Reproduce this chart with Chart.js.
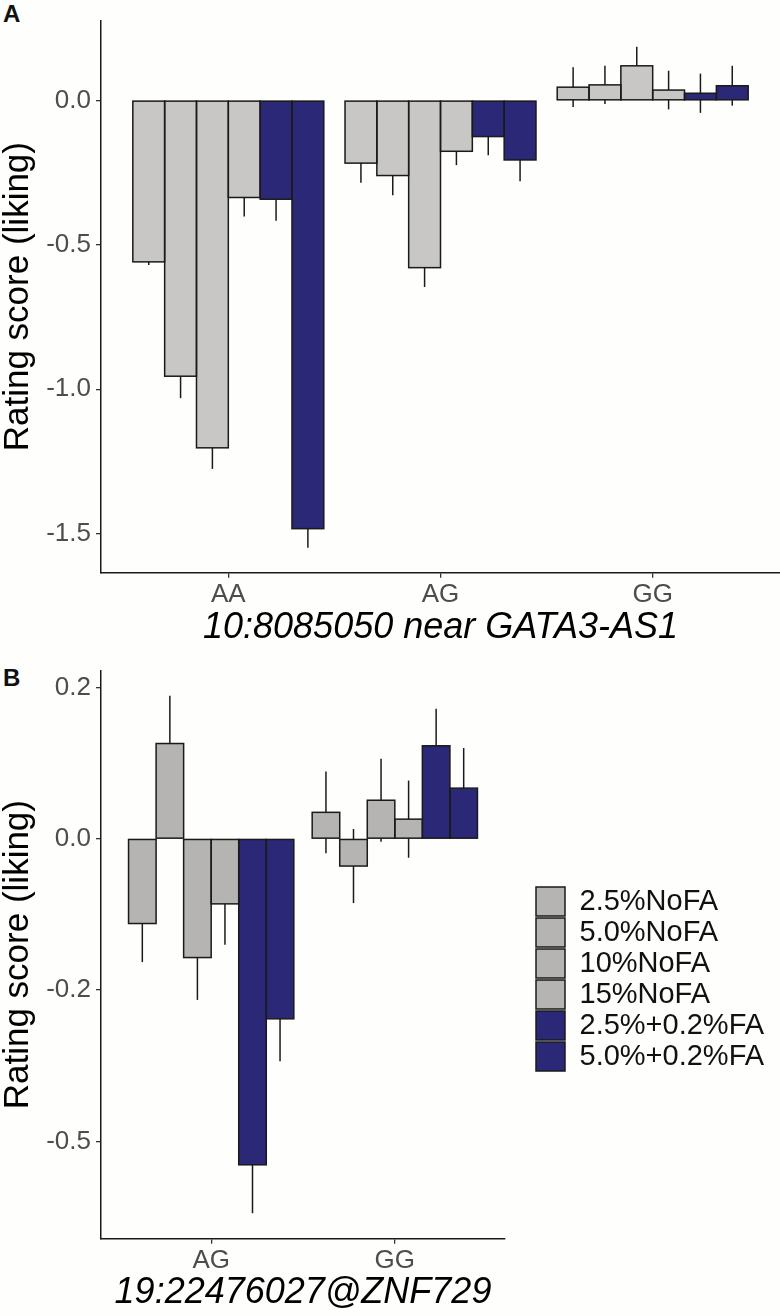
<!DOCTYPE html>
<html>
<head>
<meta charset="utf-8">
<script src="https://cdn.jsdelivr.net/npm/chart.js@4.4.1/dist/chart.umd.min.js"></script>
<style>
  body { margin: 0; background: #fefefc; }
  #wrap { position: relative; width: 780px; height: 1316px; }
  canvas { position: absolute; left: 0; }
  .tag { position: absolute; left: 3px; font: bold 24px "Liberation Sans", Arial, sans-serif; color: #111; }
</style>
</head>
<body>
<div id="wrap">
  <div class="tag" style="top:0px">A</div>
  <canvas id="chartA" width="780" height="650" style="top:0"></canvas>
  <div class="tag" style="top:664px">B</div>
  <canvas id="chartB" width="780" height="666" style="top:650px"></canvas>
</div>
<script>
// series (same order in both panels)
const seriesNames = ['2.5%NoFA', '5.0%NoFA', '10%NoFA', '15%NoFA', '2.5%+0.2%FA', '5.0%+0.2%FA'];

// panel A: 10:8085050 near GATA3-AS1
const categoriesA = ['AA', 'AG', 'GG'];
const meansA = [
  [-0.559, -0.217, 0.046],
  [-0.955, -0.260, 0.054],
  [-1.203, -0.579, 0.120],
  [-0.336, -0.176, 0.036],
  [-0.342, -0.125, 0.025],
  [-1.483, -0.206, 0.051]
];
const errorsA = [
  [0.011, 0.068, 0.069],
  [0.076, 0.068, 0.066],
  [0.073, 0.067, 0.066],
  [0.066, 0.048, 0.067],
  [0.075, 0.065, 0.068],
  [0.066, 0.074, 0.069]
];
const yTicksA = [0, -0.5, -1.0, -1.5];
const yTickLabelsA = ['0.0', '-0.5', '-1.0', '-1.5'];

// panel B: 19:22476027@ZNF729
const categoriesB = ['AG', 'GG'];
const meansB = [
  [-0.112, 0.035],
  [0.126, -0.036],
  [-0.157, 0.051],
  [-0.086, 0.026],
  [-0.431, 0.123],
  [-0.238, 0.067]
];
const errorsB = [
  [0.051, 0.054],
  [0.063, 0.049],
  [0.056, 0.055],
  [0.054, 0.051],
  [0.064, 0.049],
  [0.056, 0.053]
];
// the original axis labels its lowest tick "-0.5"
const yTicksB = [0.2, 0, -0.2, -0.4];
const yTickLabelsB = ['0.2', '0.0', '-0.2', '-0.5'];

const FONT = '"Liberation Sans", Arial, sans-serif';
const EDGE = '#1a1a1a';
const BLUE = '#2a2877';
Chart.defaults.font.family = FONT;

// whiskers drawn under the bars, so only the outer half shows
const errorBars = {
  id: 'errorBars',
  beforeDatasetsDraw(chart) {
    const ctx = chart.ctx;
    const y = chart.scales.y;
    ctx.save();
    ctx.strokeStyle = EDGE;
    ctx.lineWidth = 1.5;
    chart.data.datasets.forEach((ds, i) => {
      chart.getDatasetMeta(i).data.forEach((bar, j) => {
        const v = ds.data[j].y, e = ds.se[j];
        ctx.beginPath();
        ctx.moveTo(bar.x, y.getPixelForValue(v - e));
        ctx.lineTo(bar.x, y.getPixelForValue(v + e));
        ctx.stroke();
      });
    });
    ctx.restore();
  }
};

// outline on the bar edges (shared between neighbours, like ggplot)
const barOutline = {
  id: 'barOutline',
  afterDatasetsDraw(chart) {
    const ctx = chart.ctx;
    ctx.save();
    ctx.strokeStyle = EDGE;
    ctx.lineWidth = 1.5;
    chart.data.datasets.forEach((ds, i) => {
      chart.getDatasetMeta(i).data.forEach((bar) => {
        const { x, y, base, width } = bar.getProps(['x', 'y', 'base', 'width'], true);
        ctx.strokeRect(x - width / 2, Math.min(y, base), width, Math.abs(base - y));
      });
    });
    ctx.restore();
  }
};

// keep legend column where ggplot put it
const legendSpot = {
  id: 'legendSpot',
  beforeLayout(chart) {
    const lg = chart.legend;
    if (lg && lg.options.display && !lg._pinned) {
      const fit = lg.fit.bind(lg);
      lg.fit = function () { fit(); this.width = 275; };
      lg._pinned = true;
    }
  },
  afterLayout(chart) {
    const lg = chart.legend;
    if (lg && lg.options.display) {
      lg.left = 534;
      lg.top = 235;
    }
  }
};

function makeDatasets(means, errors, grey) {
  return seriesNames.map((name, i) => ({
    label: name,
    data: means[i].map((v, j) => ({ x: j + 1, y: v })),
    se: errors[i],
    backgroundColor: i < 4 ? grey : BLUE,
    borderColor: EDGE,
    borderWidth: 0,
    inflateAmount: 0,
    categoryPercentage: 0.9,
    barPercentage: 1.0
  }));
}

function makeChart(id, cats, means, errors, grey, yMin, yMax, yTicks, yLabels, title, showLegend, padTop, titlePad) {
  return new Chart(document.getElementById(id), {
    type: 'bar',
    data: { datasets: makeDatasets(means, errors, grey) },
    options: {
      responsive: false,
      animation: false,
      layout: { padding: { top: padTop, right: 0, bottom: 0, left: 0 } },
      plugins: {
        tooltip: { enabled: false },
        legend: {
          display: showLegend,
          position: 'right',
          align: 'start',
          labels: {
            boxWidth: 29,
            boxHeight: 29,
            padding: 2,
            color: '#111',
            font: { size: 29 },
            generateLabels: (chart) => Chart.defaults.plugins.legend.labels.generateLabels(chart)
              .map(item => ({ ...item, lineWidth: 1.5, strokeStyle: EDGE }))
          }
        }
      },
      scales: {
        x: {
          type: 'linear',
          offset: false,
          min: 0.4,
          max: cats.length + 0.6,
          afterBuildTicks: (s) => { s.ticks = cats.map((c, i) => ({ value: i + 1 })); },
          afterFit: (s) => { s.height = 77.3; },
          ticks: {
            autoSkip: false,
            maxRotation: 0,
            padding: 2,
            color: '#4d4d4d',
            font: { size: 26 },
            callback: (v, i) => cats[i]
          },
          grid: { offset: false, drawOnChartArea: false, drawTicks: true, tickLength: 5, color: '#333', lineWidth: 1.3 },
          border: { display: true, color: EDGE, width: 1.5 },
          title: {
            display: true,
            text: title,
            color: '#000',
            font: { size: 36, style: 'italic', lineHeight: 1 },
            padding: { top: 0, bottom: titlePad }
          }
        },
        y: {
          min: yMin,
          max: yMax,
          afterBuildTicks: (s) => { s.ticks = yTicks.map(v => ({ value: v })); },
          afterFit: (s) => { s.width = 101; },
          ticks: {
            padding: 5,
            color: '#4d4d4d',
            font: { size: 26 },
            callback: (v, i) => yLabels[i]
          },
          grid: { drawOnChartArea: false, drawTicks: true, tickLength: 5, color: '#333', lineWidth: 1.3 },
          border: { display: true, color: EDGE, width: 1.5 },
          title: {
            display: true,
            text: 'Rating score (liking)',
            color: '#000',
            font: { size: 35, lineHeight: 1 },
            padding: { top: 0.5, bottom: 0 }
          }
        }
      }
    },
    plugins: [errorBars, barOutline, legendSpot]
  });
}

makeChart('chartA', categoriesA, meansA, errorsA, '#c9c7c5', -1.6355, 0.2766,
  yTicksA, yTickLabelsA, '10:8085050 near GATA3-AS1', false, 1, 4);
makeChart('chartB', categoriesB, meansB, errorsB, '#b5b4b2', -0.5287, 0.2224,
  yTicksB, yTickLabelsB, '19:22476027@ZNF729', true, 19, 5);
</script>
</body>
</html>
